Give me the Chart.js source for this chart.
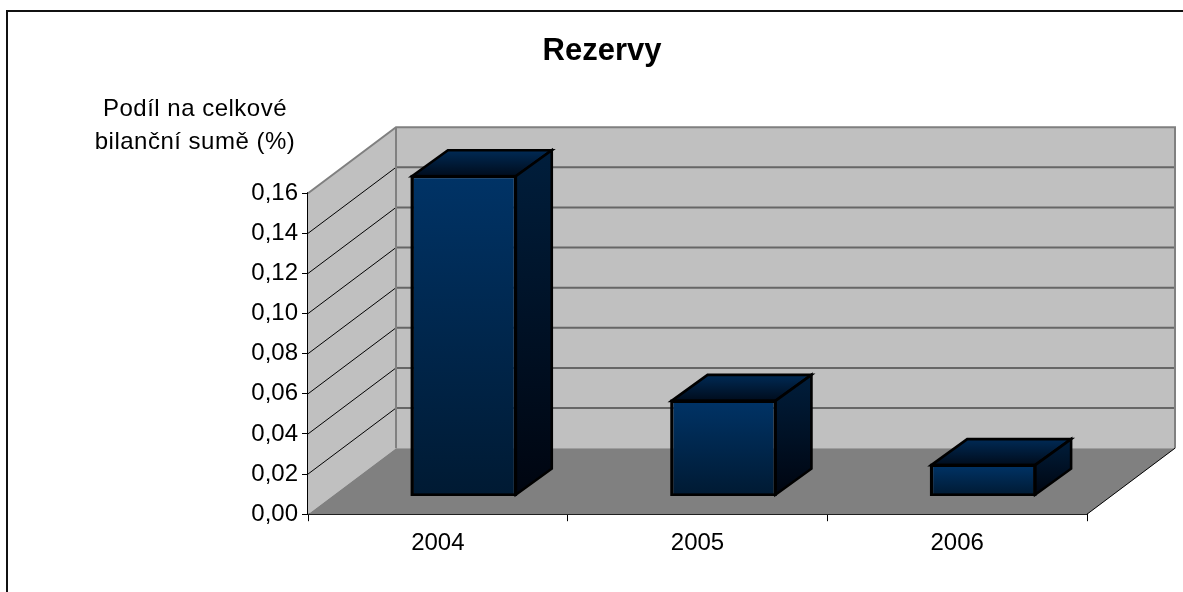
<!DOCTYPE html>
<html><head><meta charset="utf-8">
<script src="https://cdn.jsdelivr.net/npm/chart.js@4"></script>
<style>html,body{margin:0;padding:0;background:#fff;overflow:hidden}
#box{position:absolute;left:0;top:0;width:1183px;height:592px}
#frame{position:absolute;left:6px;top:10px;width:1177px;height:582px;border:2px solid #111;border-right:0;border-bottom:0;box-sizing:border-box;pointer-events:none}
</style></head><body>
<div id="box"><canvas id="c" width="1183" height="592"></canvas></div>
<div id="frame"></div>
<script>
const categories = ['2004','2005','2006'];
const values = [0.159,0.047,0.015];
const yTicks = [0,0.02,0.04,0.06,0.08,0.10,0.12,0.14,0.16];
const titleText = 'Rezervy';
const yTitleLines = ['Podíl na celkové','bilanční sumě (%)'];

const FONT = '"Liberation Sans", Arial, sans-serif';
const wall = {dx:88, dy:-66};
const bar = {dx:36, dy:-26, shiftX:26, shiftY:-19};

function lerpRect(ctx,x0,y0,x1,y1,c0,c1){
  const g=ctx.createLinearGradient(x0,y0,x1,y1);g.addColorStop(0,c0);g.addColorStop(1,c1);return g;
}
const scene = {
  id:'scene',
  beforeDatasetsDraw(chart){
    const {ctx,chartArea:a,scales:{y}}=chart;
    const {dx,dy}=wall;
    ctx.save();
    ctx.fillStyle='#c0c0c0';
    ctx.fillRect(a.left+dx,a.top+dy,a.width,a.height);
    ctx.beginPath();ctx.moveTo(a.left,a.top);ctx.lineTo(a.left+dx,a.top+dy);ctx.lineTo(a.left+dx,a.bottom+dy);ctx.lineTo(a.left,a.bottom);ctx.closePath();ctx.fill();
    ctx.fillStyle='#808080';
    ctx.beginPath();ctx.moveTo(a.left,a.bottom);ctx.lineTo(a.left+dx,a.bottom+dy);ctx.lineTo(a.right+dx,a.bottom+dy);ctx.lineTo(a.right,a.bottom);ctx.closePath();ctx.fill();
    yTicks.forEach(t=>{
      const p=y.getPixelForValue(t);
      if(t>0&&t<0.16){
        ctx.strokeStyle='#666';ctx.lineWidth=2;
        ctx.beginPath();ctx.moveTo(a.left+dx,p+dy);ctx.lineTo(a.right+dx,p+dy);ctx.stroke();
        ctx.strokeStyle='#000';ctx.lineWidth=1;
        ctx.beginPath();ctx.moveTo(a.left,p);ctx.lineTo(a.left+dx,p+dy);ctx.stroke();
      }
    });
    ctx.strokeStyle='#808080';ctx.lineWidth=2;
    ctx.beginPath();ctx.moveTo(a.left,a.top);ctx.lineTo(a.left+dx,a.top+dy);ctx.lineTo(a.right+dx,a.top+dy);ctx.lineTo(a.right+dx,a.bottom+dy);ctx.stroke();
    ctx.beginPath();ctx.moveTo(a.left+dx,a.top+dy);ctx.lineTo(a.left+dx,a.bottom+dy);ctx.stroke();
    ctx.strokeStyle='#000';ctx.lineWidth=1;
    ctx.beginPath();ctx.moveTo(a.right,a.bottom);ctx.lineTo(a.right+dx,a.bottom+dy);ctx.stroke();
    ctx.restore();
  },
  beforeDatasetDraw(chart){
    const ctx=chart.ctx;
    ctx.save();
    ctx.translate(bar.shiftX,bar.shiftY);
  },
  afterDatasetDraw(chart,args){
    const ctx=chart.ctx;
    const {dx,dy}=bar;
    args.meta.data.forEach(el=>{
      const l=el.x-el.width/2,r=el.x+el.width/2,t=el.y,b=el.base;
      ctx.lineWidth=2.6;ctx.strokeStyle='#000';ctx.lineJoin='miter';
      ctx.fillStyle=lerpRect(ctx,0,t+dy,0,t,'#002a55','#000c1c');
      ctx.beginPath();ctx.moveTo(l,t);ctx.lineTo(l+dx,t+dy);ctx.lineTo(r+dx,t+dy);ctx.lineTo(r,t);ctx.closePath();ctx.fill();ctx.stroke();
      ctx.fillStyle=lerpRect(ctx,0,t+dy,0,b,'#001e3c','#000510');
      ctx.beginPath();ctx.moveTo(r,t);ctx.lineTo(r+dx,t+dy);ctx.lineTo(r+dx,b+dy);ctx.lineTo(r,b);ctx.closePath();ctx.fill();ctx.stroke();
      ctx.strokeRect(l,t,r-l,b-t);
    });
    ctx.restore();
  },
  afterDraw(chart){
    const {ctx}=chart;
    ctx.save();
    ctx.fillStyle='#000';ctx.font='24px '+FONT;ctx.letterSpacing='0.5px';ctx.textAlign='center';ctx.textBaseline='alphabetic';
    ctx.fillText(yTitleLines[0],195,116);
    ctx.fillText(yTitleLines[1],195,149);
    ctx.restore();
  }
};
new Chart(document.getElementById('c'),{
  type:'bar',
  data:{labels:categories,datasets:[{
    data:values,
    barPercentage:0.4,categoryPercentage:1,
    clip:false,
    borderColor:'#000',borderWidth:2,
    backgroundColor(ctx){
      const c=ctx.chart;
      if(!c.chartArea||ctx.type!=='data')return '#003366';
      const y=c.scales.y;
      return lerpRect(c.ctx,0,y.getPixelForValue(ctx.parsed.y),0,y.getPixelForValue(0),'#003366','#001a33');
    }
  }]},
  options:{
    responsive:false,animation:false,events:[],
    layout:{padding:{left:21,right:0,top:0,bottom:26}},
    plugins:{
      legend:{display:false},tooltip:{enabled:false},
      title:{display:true,text:titleText,color:'#000',font:{family:FONT,size:31,weight:'bold'},padding:{top:33,bottom:123}}
    },
    scales:{
      x:{
        grid:{display:true,offset:true,drawOnChartArea:false,tickLength:7,color:'#000'},
        border:{display:true,color:'#000',width:2},
        ticks:{color:'#000',font:{family:FONT,size:24},padding:8,maxRotation:0}
      },
      y:{
        min:0,max:0.16,
        afterBuildTicks(s){s.ticks=yTicks.map(v=>({value:v}));},
        afterFit(s){s.width=287;},
        grid:{drawOnChartArea:false,tickLength:6,color:'#000'},
        border:{display:true,color:'#000',width:2},
        ticks:{color:'#000',font:{family:FONT,size:24},padding:4,callback:v=>v.toFixed(2).replace('.',',')}
      },
      yDepth:{
        position:'right',min:0,max:1,
        afterFit(s){s.width=96;},
        grid:{display:false},border:{display:false},ticks:{display:false}
      }
    }
  },
  plugins:[scene]
});
</script></body></html>
